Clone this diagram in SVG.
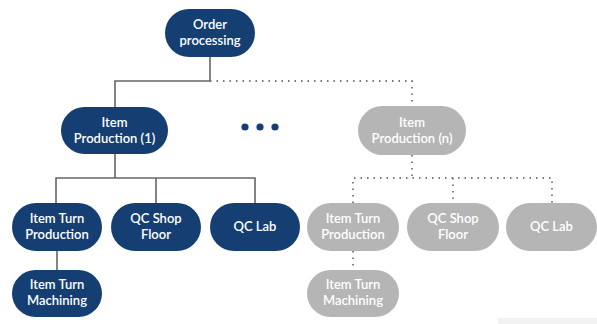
<svg xmlns="http://www.w3.org/2000/svg" width="597" height="324" viewBox="0 0 597 324">
<style>
.n{fill:#153f73}
.g{fill:#b5b5b5}
text{font-family:Lato,"Open Sans","Liberation Sans",sans-serif;font-size:13px;font-weight:600;fill:#fff;text-anchor:middle}
.s{fill:none;stroke:#666;stroke-width:1.6}
.d{fill:none;stroke:#777;stroke-width:1.8;stroke-dasharray:1.5 5}
</style>
<rect width="597" height="324" fill="#fff"/>
<rect x="498" y="318" width="99" height="6" fill="#f2f2f2"/>
<g id="connectors">
<path class="s" d="M210 57V81H115V107"/>
<path class="s" d="M115 154V178M56 203V178H255V203M156 178V203M57 251V270"/>
<path class="d" d="M210 81H412V106"/>
<path class="d" d="M412 155V178M353 203V178H552V203M453 178V203M353 251V270"/>
</g>
<g id="ellipsis" fill="#153f73"><circle cx="245" cy="127" r="3.6"/><circle cx="260" cy="127" r="3.6"/><circle cx="275" cy="127" r="3.6"/></g>
<g id="order"><rect class="n" x="165" y="9" width="90" height="48" rx="24"/><text x="210" y="29">Order</text><text x="210" y="45">processing</text></g>
<g id="ip1"><rect class="n" x="61" y="107" width="107" height="47" rx="23.5"/><text x="114.5" y="127">Item</text><text x="114.5" y="143">Production (1)</text></g>
<g id="itp1"><rect class="n" x="12" y="203" width="90" height="48" rx="24"/><text x="57" y="223">Item Turn</text><text x="57" y="239">Production</text></g>
<g id="qsf1"><rect class="n" x="111" y="203" width="90" height="48" rx="24"/><text x="156" y="223">QC Shop</text><text x="156" y="239">Floor</text></g>
<g id="qcl1"><rect class="n" x="210" y="203" width="90" height="48" rx="24"/><text x="255" y="231">QC Lab</text></g>
<g id="itm1"><rect class="n" x="12" y="270" width="90" height="47" rx="23.5"/><text x="57" y="289">Item Turn</text><text x="57" y="305">Machining</text></g>
<g id="ipn"><rect class="g" x="358" y="106" width="108" height="49" rx="24.5"/><text x="412" y="127">Item</text><text x="412" y="143">Production (n)</text></g>
<g id="itpn"><rect class="g" x="307" y="203" width="92" height="48" rx="24"/><text x="353" y="223">Item Turn</text><text x="353" y="239">Production</text></g>
<g id="qsfn"><rect class="g" x="407" y="203" width="92" height="48" rx="24"/><text x="453" y="223">QC Shop</text><text x="453" y="239">Floor</text></g>
<g id="qcln"><rect class="g" x="506" y="203" width="91" height="48" rx="24"/><text x="551.5" y="231">QC Lab</text></g>
<g id="itmn"><rect class="g" x="307" y="270" width="92" height="47" rx="23.5"/><text x="353" y="289">Item Turn</text><text x="353" y="305">Machining</text></g>
</svg>
